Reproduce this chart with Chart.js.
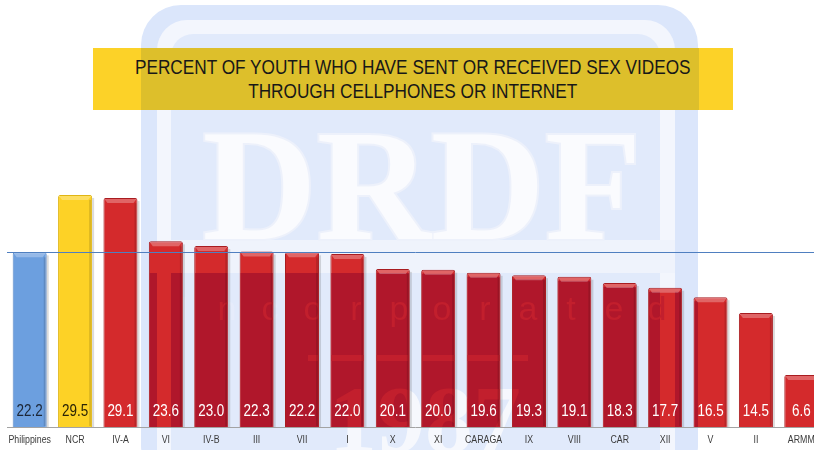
<!DOCTYPE html>
<html>
<head>
<meta charset="utf-8">
<script src="https://cdn.jsdelivr.net/npm/chart.js@4.4.0/dist/chart.umd.min.js"></script>
<style>
  html, body { margin: 0; padding: 0; background: #fff; overflow: hidden; }
  #wrap { position: relative; width: 826px; height: 450px; }
  #title {
    position: absolute; left: 93px; top: 48px; width: 640px; height: 62px;
    background: linear-gradient(to right, #fcd228 0, #fcd228 48px, #ddbf2b 48px, #ddbf2b 606px, #fcd228 606px);
    display: flex; align-items: center; justify-content: center; text-align: center;
    font-family: "Liberation Sans", Arial, sans-serif;
    font-size: 20.5px; line-height: 24.5px; color: #181818;
  }
  #title span { display: block; white-space: nowrap; flex-shrink: 0; transform: scaleX(0.84); }
</style>
</head>
<body>
<div id="wrap">
  <canvas id="chart" width="826" height="450"></canvas>
  <div id="title"><span>PERCENT OF YOUTH WHO HAVE SENT OR RECEIVED SEX VIDEOS<br>THROUGH CELLPHONES OR INTERNET</span></div>
</div>
<script>
const categories = ["Philippines", "NCR", "IV-A", "VI", "IV-B", "III", "VII", "I", "X", "XI", "CARAGA", "IX", "VIII", "CAR", "XII", "V", "II", "ARMM"];
const percentValues = [22.2, 29.5, 29.1, 23.6, 23.0, 22.3, 22.2, 22.0, 20.1, 20.0, 19.6, 19.3, 19.1, 18.3, 17.7, 16.5, 14.5, 6.6];

const sans = "'Liberation Sans', Arial, sans-serif";

function roundRect(ctx, x, y, w, h, r, color) {
  ctx.fillStyle = color;
  ctx.beginPath();
  ctx.roundRect(x, y, w, h, r);
  ctx.fill();
}

// narrow text: squeeze the context horizontally around x
function narrowText(ctx, text, x, y, squeeze) {
  ctx.save();
  ctx.translate(x, y);
  ctx.scale(squeeze, 1);
  ctx.fillText(text, 0, 0);
  ctx.restore();
}

// faint DRDF logo behind the bars
const watermark = {
  id: "watermark",
  beforeDatasetsDraw(chart) {
    const ctx = chart.ctx;
    ctx.save();
    roundRect(ctx, 141, 5, 557, 480, 40, "#dbe6fb");
    roundRect(ctx, 157, 20, 518, 470, 30, "#f3f6fd");
    roundRect(ctx, 171, 34, 489, 460, 22, "#e1eafb");
    ctx.fillStyle = "#eff3fc";
    ctx.fillRect(157, 240, 518, 33);
    ctx.font = "bold 158px 'Liberation Serif', serif";
    ctx.textAlign = "center";
    ctx.textBaseline = "alphabetic";
    ctx.fillStyle = "#fafbfe";
    ctx.strokeStyle = "#edf1fb";
    ctx.lineWidth = 4;
    ctx.strokeText("DRDF", 422, 239);
    ctx.fillText("DRDF", 422, 239);
    ctx.font = "34px " + sans;
    ctx.fillStyle = "#e6ecfb";
    "Incorporated".split("").forEach((ch, i) => ctx.fillText(ch, 184 + i * 43, 320));
    ctx.font = "bold 96px 'Liberation Serif', serif";
    ctx.fillStyle = "#f6f8fd";
    ctx.fillText("1987", 425, 452);
    ctx.restore();
  },
  afterDatasetsDraw(chart) {
    const ctx = chart.ctx;
    const meta = chart.getDatasetMeta(0);
    // tint the red bars where the logo is blue
    ctx.save();
    ctx.beginPath();
    meta.data.forEach((bar, i) => {
      if (i < 2) return;
      ctx.rect(bar.x - bar.width / 2 + 1, bar.y + 4, bar.width - 2, bar.base - bar.y - 4);
    });
    ctx.clip();
    ctx.fillStyle = "#b0172b";
    ctx.fillRect(141, 273, 16, 180);
    ctx.fillRect(171, 273, 489, 180);
    ctx.fillRect(675, 273, 23, 180);
    ctx.fillStyle = "#c21f2d";
    ctx.font = "34px " + sans;
    ctx.textAlign = "center";
    "Incorporated".split("").forEach((ch, i) => ctx.fillText(ch, 184 + i * 43, 320));
    ctx.font = "bold 96px 'Liberation Serif', serif";
    ctx.fillText("1987", 425, 452);
    ctx.fillRect(308, 355, 220, 6);
    ctx.restore();
  }
};

// bevel, reference line, value labels and category labels
const decorations = {
  id: "decorations",
  afterDatasetsDraw(chart) {
    const ctx = chart.ctx;
    const meta = chart.getDatasetMeta(0);
    const area = chart.chartArea;
    ctx.save();
    meta.data.forEach((bar) => {
      const left = bar.x - bar.width / 2;
      const w = bar.width;
      ctx.fillStyle = "rgba(255,255,255,0.28)";
      ctx.beginPath();
      ctx.moveTo(left + 1, bar.y + 1);
      ctx.lineTo(left + w - 1, bar.y + 1);
      ctx.lineTo(left + w - 4, bar.y + 5);
      ctx.lineTo(left + 4, bar.y + 5);
      ctx.closePath();
      ctx.fill();
      ctx.fillStyle = "rgba(0,0,0,0.13)";
      ctx.fillRect(left + w - 3, bar.y + 5, 2, bar.base - bar.y - 6);
      ctx.fillStyle = "rgba(90,90,90,0.22)";
      ctx.fillRect(left + w, bar.y + 3, 2, bar.base - bar.y - 3);
    });
    const yRef = chart.scales.y.getPixelForValue(percentValues[0]);
    ctx.strokeStyle = "#4f7fc0";
    ctx.lineWidth = 1;
    ctx.beginPath();
    ctx.moveTo(area.left, Math.round(yRef) + 0.5);
    ctx.lineTo(area.right, Math.round(yRef) + 0.5);
    ctx.stroke();
    ctx.strokeStyle = "#a3a3a3";
    ctx.beginPath();
    ctx.moveTo(area.left, Math.round(area.bottom) + 0.5);
    ctx.lineTo(area.right, Math.round(area.bottom) + 0.5);
    ctx.stroke();
    ctx.font = "16px " + sans;
    ctx.textAlign = "center";
    ctx.textBaseline = "middle";
    meta.data.forEach((bar, i) => {
      ctx.fillStyle = i === 0 ? "#1c2636" : i === 1 ? "#2b2406" : "#ffffff";
      narrowText(ctx, percentValues[i].toFixed(1), bar.x, bar.base - 15, 0.84);
    });
    ctx.font = "10px " + sans;
    ctx.fillStyle = "#3a3a3a";
    categories.forEach((c, i) => {
      narrowText(ctx, c, chart.scales.x.getPixelForValue(i), area.bottom + 13, 0.88);
    });
    ctx.restore();
  }
};

const barColors = percentValues.map((v, i) => (i === 0 ? "#6c9fdf" : i === 1 ? "#fdd226" : "#d42a2c"));
const borderColors = percentValues.map((v, i) => (i === 0 ? "#5b88c4" : i === 1 ? "#e0b514" : "#a81c20"));

new Chart(document.getElementById("chart"), {
  type: "bar",
  data: {
    labels: categories,
    datasets: [{
      data: percentValues,
      backgroundColor: barColors,
      borderColor: borderColors,
      borderWidth: 1,
      borderRadius: { topLeft: 2, topRight: 2 },
      borderSkipped: "bottom",
      barPercentage: 0.75,
      categoryPercentage: 1
    }]
  },
  options: {
    responsive: false,
    animation: false,
    layout: { padding: { top: 191, left: 7, right: 2, bottom: 23 } },
    plugins: { legend: { display: false }, tooltip: { enabled: false } },
    scales: {
      x: {
        grid: { display: false, drawTicks: false },
        border: { display: false },
        ticks: { display: false }
      },
      y: { display: false, min: 0, max: 30 }
    }
  },
  plugins: [watermark, decorations]
});
</script>
</body>
</html>
